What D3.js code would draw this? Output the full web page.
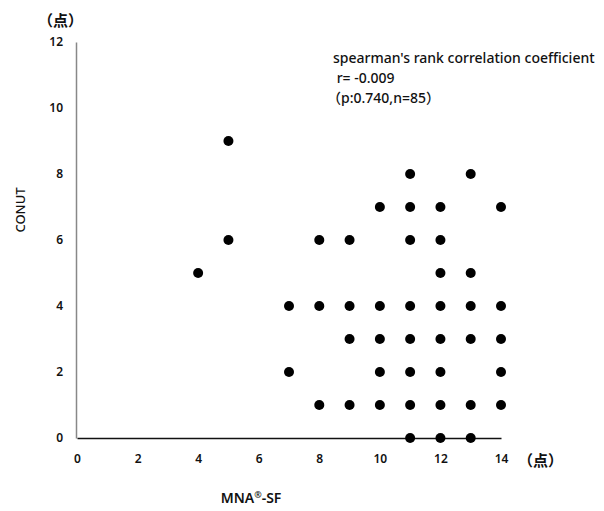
<!DOCTYPE html>
<html><head><meta charset="utf-8">
<script src="https://cdn.jsdelivr.net/npm/d3@7"></script>
<style>body{margin:0;background:#fff}svg{display:block}text{font-family:"Noto Sans","Noto Sans CJK JP",sans-serif;fill:#111}</style>
</head><body>
<script>
// data: MNA-SF score (x) vs CONUT score (y)
const mnaValues  = [4, 5, 5, 7, 7, 8, 8, 8, 9, 9, 9, 9, 10, 10, 10, 10, 10,
  11, 11, 11, 11, 11, 11, 11, 11, 12, 12, 12, 12, 12, 12, 12, 12,
  13, 13, 13, 13, 13, 13, 14, 14, 14, 14, 14];
const conutValues = [5, 9, 6, 4, 2, 6, 4, 1, 6, 4, 3, 1, 7, 4, 3, 2, 1,
  8, 7, 6, 4, 3, 2, 1, 0, 7, 6, 5, 4, 3, 2, 1, 0,
  8, 5, 4, 3, 1, 0, 7, 4, 3, 2, 1];
const xTicks = [0, 2, 4, 6, 8, 10, 12, 14];
const yTicks = [0, 2, 4, 6, 8, 10, 12];
const annotationLines = ["spearman's rank correlation coefficient", " r= -0.009", "（p:0.740,n=85）"];

const W = 604, H = 511;
const svg = d3.select("body").append("svg").attr("width", W).attr("height", H);
const x = d3.scaleLinear().domain([0, 14]).range([77, 501]);
const y = d3.scaleLinear().domain([0, 12]).range([438, 42]);

// y axis
const yAxis = svg.append("g").attr("transform", "translate(76,0)")
  .call(d3.axisLeft(y).tickValues(yTicks).tickSize(0).tickPadding(13));
yAxis.select(".domain").attr("stroke", "#888").attr("stroke-width", 1.5);
yAxis.selectAll("text").style("font-size", "12px").style("font-weight", "600").attr("fill", "#222");

// x axis
const xAxis = svg.append("g").attr("transform", "translate(0,438)")
  .call(d3.axisBottom(x).tickValues(xTicks).tickSize(0).tickPadding(16));
xAxis.select(".domain").attr("stroke", "#111").attr("stroke-width", 1.5);
xAxis.selectAll("text").style("font-size", "12px").style("font-weight", "600").attr("fill", "#222");

// unit labels
svg.append("text").attr("x", 38).attr("y", 26).style("font-size", "15px").style("font-weight", "700").text("（点）");
svg.append("text").attr("x", 518).attr("y", 466).style("font-size", "15px").style("font-weight", "700").text("（点）");

// axis titles
svg.append("text").attr("transform", "translate(25,210) rotate(-90)")
  .attr("text-anchor", "middle").style("font-size", "13px").style("font-weight", "500").text("CONUT");
const xt = svg.append("text").attr("x", 251).attr("y", 503)
  .attr("text-anchor", "middle").style("font-size", "14px").style("font-weight", "600");
xt.append("tspan").text("MNA");
xt.append("tspan").attr("dy", -5).style("font-size", "9px").text("®");
xt.append("tspan").attr("dy", 5).text("-SF");

// points
svg.append("g").selectAll("circle").data(mnaValues.map((v, i) => [v, conutValues[i]]))
  .join("circle").attr("cx", d => x(d[0])).attr("cy", d => y(d[1])).attr("r", 5).attr("fill", "#000");

// annotation
const ann = svg.append("text").attr("x", 333).attr("y", 63).style("font-size", "14px").style("font-weight", "500");
annotationLines.forEach((t, i) => {
  ann.append("tspan").attr("x", i === 2 ? 327 : 333).attr("y", 63 + i * 20).attr("xml:space", "preserve").text(t);
});
</script>
</body></html>
